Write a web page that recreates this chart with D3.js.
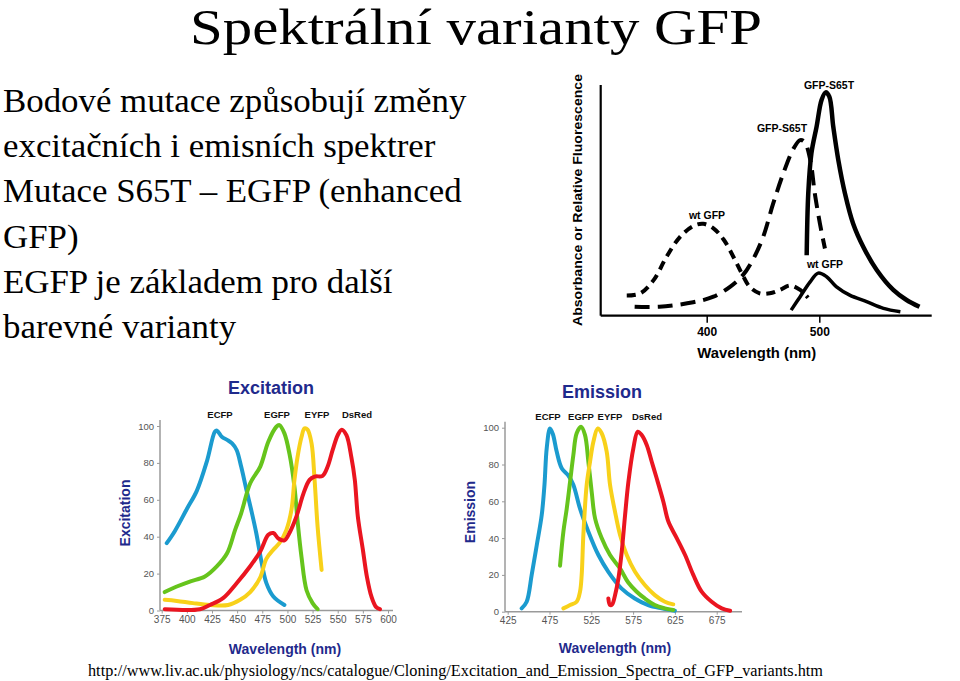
<!DOCTYPE html>
<html><head><meta charset="utf-8">
<script src="https://cdn.jsdelivr.net/npm/d3@7"></script>
<style>
html,body{margin:0;padding:0;background:#fff;}
svg{display:block;}
</style></head>
<body>
<svg id="chart" width="960" height="681"></svg>
<script>
// ---------- Slide text ----------
const slideTitle = "Spektrální varianty GFP";
const bodyLines = [
  "Bodové mutace způsobují změny",
  "excitačních i emisních spektrer",
  "Mutace S65T – EGFP (enhanced",
  "GFP)",
  "EGFP je základem pro další",
  "barevné varianty"
];
const sourceUrl = "http://www.liv.ac.uk/physiology/ncs/catalogue/Cloning/Excitation_and_Emission_Spectra_of_GFP_variants.htm";

// ---------- Top-right (black & white) chart: wavelength nm, relative value ----------
const bwTicks = [400, 500];
const wtExcitation = [[329,9],[341,10],[353,16],[364,26],[376,35],[388,40],[397,41],[406,39],[415,34],[424,26],[431,19],[438,13],[447,10],[456,10],[465,11.5],[474,13.5],[483,11.5],[490,8]];
const s65tExcitation = [[336,4],[358,4],[388,6],[406,8.5],[421,13],[432,18],[441,25],[450,35],[459,50],[468,63.5],[477,74.5],[483,78.4],[487,77.5],[492,69.5],[496,54.6],[500.6,41],[505,30]];
const wtEmission = [[475,2.5],[483,8.5],[491.7,15],[499,19],[506.5,17.4],[515,13],[527,9.2],[542,6.3],[557,3.3],[572,1.8]];
const s65tEmission = [[488.8,27],[490.2,54.6],[493,72.5],[497.6,84.4],[502,96.3],[505.6,99.7],[508.9,97.8],[512.4,84.4],[516.9,69.5],[522.8,54.6],[530,41.2],[539,30.8],[551,20.4],[565.7,11.5],[577.5,7],[589,4]];

// ---------- Excitation chart ----------
const excTicksX = [375,400,425,450,475,500,525,550,575,600];
const valTicksY = [0,20,40,60,80,100];
const excECFP = [[380,36.5],[388,43],[400,55],[410,65],[420,81],[428,97],[430,97.5],[435,94],[440,92.5],[445,90.6],[449.5,87],[454,78],[459,66],[464,54.5],[469,42],[474,27],[479,15],[486,7.6],[497,3]];
const excEGFP = [[378,10],[390,13],[403,15.7],[418,18.4],[430,24],[440,31],[448,43.7],[454,52.7],[463,69],[473,78],[481,91.5],[489,99.6],[492,100.5],[497,96],[502,85],[507,67],[510,49],[514,29],[519,11],[525,4],[530,0.7]];
const excEYFP = [[378,5.8],[390,5.2],[406,4],[423,3],[441,3],[453,5.8],[463,10],[473,18],[479,28],[486,33],[492,36.5],[499,43.7],[504,54.5],[507,70.8],[510,83],[514,94],[517,98.7],[520,98],[524,90.6],[527,70.8],[530,45.5],[534,22]];
const excDsRed = [[378,0.7],[413,0.7],[423,3],[436,6.7],[449.5,14.8],[463,24],[473,32],[481,41],[486,42],[491,39],[497,38],[502,42],[509,51],[516,63.5],[522,70.8],[527,72.6],[535,73],[540,78],[545,87],[550,95],[554,98],[558.7,95],[563.6,83],[567,70.8],[570,51],[575,33],[579,18.4],[583.5,7.6],[588,2],[592,0.7]];

// ---------- Emission chart ----------
const emiTicksX = [425,475,525,575,625,675];
const emiECFP = [[441.7,1.8],[447.7,5.4],[453.7,20],[459.7,36],[465.7,52.5],[469,69],[471.7,89],[475.6,99.6],[479,96.6],[483.6,87],[489.6,78],[497.6,74],[503.5,69],[511.5,56],[521.5,43.5],[533.5,30.8],[545.4,21.7],[561,12.7],[577,7.2],[593,3.6],[609,1.8],[625,0.5]];
const emiEGFP = [[487.6,25],[491.6,43.5],[495.6,56],[499.6,70.6],[503.5,85],[507.5,97],[512.7,100.5],[517.5,96],[521.5,81.5],[525.5,65],[529.5,50.7],[537.4,40],[547.4,30.8],[559.4,23.5],[569,16],[579,11],[589,7.2],[601,3.6],[613,1.8],[623,0.9]];
const emiEYFP = [[491.6,1.8],[499.6,3.6],[507.5,5.4],[511.5,10.9],[513.5,20],[515.5,41.7],[519.5,69],[523.5,81.5],[527.5,92.4],[532.7,99.6],[537.4,97],[543.4,87],[547.4,69],[553.4,54.3],[559.4,41.7],[567.4,30.8],[577.3,21.7],[589,14.5],[601,9],[613,5.4],[623,4]];
const emiDsRed = [[545.4,7.2],[547.4,3.6],[550,4],[553.4,9],[557.4,18],[561.4,32.6],[565.4,52.5],[569.4,70.6],[575.3,88.8],[580.5,97.8],[585.3,96],[591.3,90.6],[597.3,81.5],[603.2,72.5],[611.2,59.8],[617.2,49],[627.2,40],[637.2,30.8],[647,20],[657,10.9],[669,5.4],[681,1.8],[691,0.5]];

const seriesNames = ["ECFP","EGFP","EYFP","DsRed"];
const seriesColors = ["#1b9bcf","#66c41c","#f8d11a","#ea1520"];

// =====================================================================
const svg = d3.select("#chart");
const serif = "'Liberation Serif','Times New Roman',serif";
const narrow = "'Liberation Sans Narrow','Arial Narrow','Liberation Sans',Arial,sans-serif";
const navy = "#1f2a8c";

svg.append("text").attr("x", 190).attr("y", 44)
  .attr("font-family", serif).attr("font-size", 51).attr("fill","#000")
  .attr("textLength", 572).attr("lengthAdjust","spacingAndGlyphs").text(slideTitle);

svg.append("g").attr("transform","translate(3,0) scale(1.056,1)")
  .selectAll("text").data(bodyLines).join("text")
  .attr("x", 0).attr("y", (d,i) => 112 + i*45.2)
  .attr("font-family", serif).attr("font-size", 33).attr("fill","#000").text(d=>d);

svg.append("text").attr("x", 88).attr("y", 676)
  .attr("font-family", serif).attr("font-size", 16.5).attr("fill","#000")
  .attr("textLength", 735).attr("lengthAdjust","spacingAndGlyphs").text(sourceUrl);

// ---------- BW chart ----------
(function(){
  const x = d3.scaleLinear().domain([400,500]).range([706.7,819.3]);
  const y = d3.scaleLinear().domain([0,100]).range([315.7,91.7]);
  const g = svg.append("g");
  const x0 = 600.7, x1 = 931.7, yTop = 85;
  g.append("line").attr("x1",x0).attr("x2",x0).attr("y1",yTop).attr("y2",y(0)).attr("stroke","#000").attr("stroke-width",2.2);
  const ax = d3.axisBottom(x).tickValues(bwTicks).tickSize(7).tickFormat(d3.format("d"));
  const axg = g.append("g").attr("transform",`translate(0,${y(0)})`).call(ax);
  axg.select(".domain").remove();
  axg.append("line").attr("x1",x0).attr("x2",x1).attr("y1",0).attr("y2",0).attr("stroke","#000").attr("stroke-width",2.2);
  axg.selectAll(".tick line").attr("stroke","#000").attr("stroke-width",1.5);
  axg.selectAll(".tick text").attr("font-family",narrow).attr("font-weight","bold").attr("font-size",12).attr("fill","#000").attr("dy","0.85em");
  g.append("text").attr("x",756.7).attr("y",358).attr("text-anchor","middle").attr("font-family",narrow).attr("font-weight","bold").attr("font-size",15).attr("textLength",119).attr("lengthAdjust","spacingAndGlyphs").text("Wavelength (nm)");
  g.append("text").attr("transform","translate(582,200) rotate(-90)").attr("text-anchor","middle").attr("font-family",narrow).attr("font-weight","bold").attr("font-size",13).attr("textLength",252).attr("lengthAdjust","spacingAndGlyphs").text("Absorbance or Relative Fluorescence");
  const line = d3.line().x(d=>x(d[0])).y(d=>y(d[1])).curve(d3.curveCatmullRom);
  g.append("path").attr("d",line(wtExcitation)).attr("fill","none").attr("stroke","#000").attr("stroke-width",4).attr("stroke-dasharray","9,6");
  g.append("path").attr("d",line(s65tExcitation)).attr("fill","none").attr("stroke","#000").attr("stroke-width",4).attr("stroke-dasharray","15,8");
  g.append("path").attr("d",line(wtEmission)).attr("fill","none").attr("stroke","#000").attr("stroke-width",3.5);
  g.append("path").attr("d",line(s65tEmission)).attr("fill","none").attr("stroke","#000").attr("stroke-width",4.5);
  const labs = [["GFP-S65T",829,89],["GFP-S65T",782,132],["wt GFP",707,219],["wt GFP",825,268]];
  g.selectAll(".bwl").data(labs).join("text").attr("x",d=>d[1]).attr("y",d=>d[2]).attr("text-anchor","middle")
    .attr("font-family",narrow).attr("font-weight","bold").attr("font-size",10.5).text(d=>d[0]);
})();

// ---------- Colour charts ----------
function colourChart(opt){
  const x = d3.scaleLinear().domain(opt.xdom).range(opt.xr);
  const y = d3.scaleLinear().domain([0,100]).range(opt.yr);
  const g = svg.append("g");
  const axisCol = "#9a9a9a";
  const ay = d3.axisLeft(y).tickValues(valTicksY).tickSize(3).tickPadding(3);
  const ayg = g.append("g").attr("transform",`translate(${opt.yAxisX},0)`).call(ay);
  ayg.select(".domain").attr("stroke",axisCol).attr("stroke-width",1.5).attr("d",`M0,${y(100)-6}V${y(0)}`);
  ayg.selectAll(".tick line").attr("stroke",axisCol);
  ayg.selectAll(".tick text").attr("font-family",narrow).attr("font-size",9.5).attr("fill","#555");
  const ax = d3.axisBottom(x).tickValues(opt.xticks).tickSize(3).tickPadding(2);
  const axg = g.append("g").attr("transform",`translate(0,${y(0)})`).call(ax);
  axg.select(".domain").attr("stroke",axisCol).attr("stroke-width",1.5).attr("d",`M${opt.yAxisX},0H${opt.xEnd}`);
  axg.selectAll(".tick line").attr("stroke",axisCol);
  axg.selectAll(".tick text").attr("font-family",narrow).attr("font-size",10).attr("fill","#555");
  g.append("text").attr("x",opt.titleX).attr("y",opt.titleY).attr("text-anchor","middle").attr("font-family",narrow)
    .attr("font-weight","bold").attr("font-size",18).attr("fill",navy).text(opt.title);
  g.append("text").attr("x",opt.xtX).attr("y",opt.xtY).attr("text-anchor","middle").attr("font-family",narrow)
    .attr("font-weight","bold").attr("font-size",14).attr("fill",navy).text("Wavelength (nm)");
  g.append("text").attr("transform",`translate(${opt.ytX},${opt.ytY}) rotate(-90)`).attr("text-anchor","middle").attr("font-family",narrow)
    .attr("font-weight","bold").attr("font-size",14).attr("fill",navy).text(opt.title);
  const line = d3.line().x(d=>x(d[0])).y(d=>y(d[1])).curve(d3.curveCatmullRom);
  opt.series.forEach((s,i)=>{
    g.append("path").attr("d",line(s)).attr("fill","none").attr("stroke",seriesColors[i])
      .attr("stroke-width",4).attr("stroke-linecap","round").attr("stroke-linejoin","round");
  });
  g.selectAll(".sl").data(seriesNames).join("text").attr("x",(d,i)=>opt.labelX[i]).attr("y",opt.labelY)
    .attr("text-anchor","middle").attr("font-family",narrow).attr("font-weight","bold").attr("font-size",9.5).attr("fill","#111").text(d=>d);
}

colourChart({
  title:"Excitation", xdom:[375,600], xr:[161.7,388], yr:[610.5,426], xticks:excTicksX,
  yAxisX:160, xEnd:393, titleX:271, titleY:394, xtX:285, xtY:654, ytX:130, ytY:513,
  series:[excECFP,excEGFP,excEYFP,excDsRed], labelX:[220,277,317,357], labelY:418
});
colourChart({
  title:"Emission", xdom:[425,675], xr:[507.7,716.7], yr:[611.7,427.7], xticks:emiTicksX,
  yAxisX:505, xEnd:742, titleX:602, titleY:398, xtX:615, xtY:653, ytX:475, ytY:512,
  series:[emiECFP,emiEGFP,emiEYFP,emiDsRed], labelX:[548,581,610,647], labelY:420
});
</script>
</body></html>
